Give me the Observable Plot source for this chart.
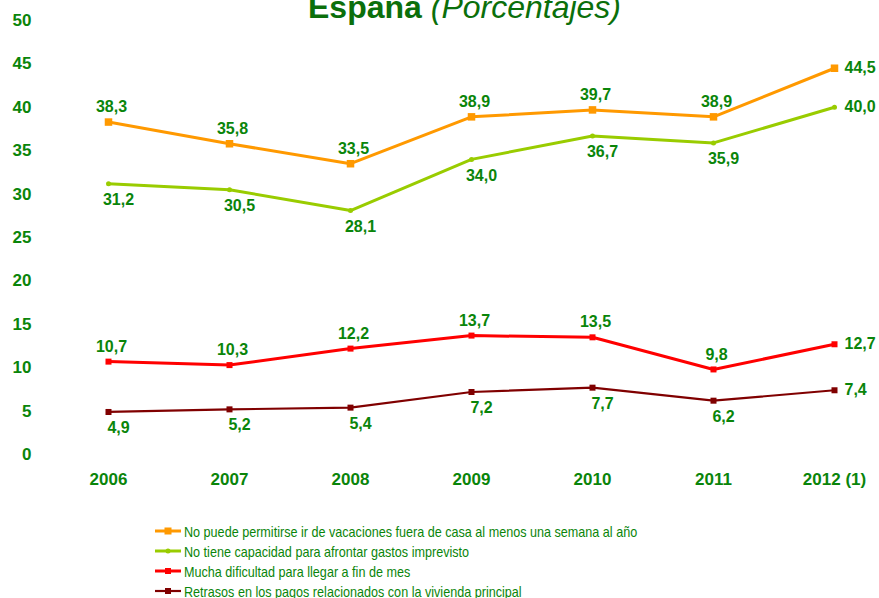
<!DOCTYPE html>
<html>
<head>
<meta charset="utf-8">
<script src="https://cdn.jsdelivr.net/npm/d3@7"></script>
<script src="https://cdn.jsdelivr.net/npm/@observablehq/plot@0.6"></script>
<style>
  body { margin: 0; background: #fff; font-family: Arial, "Liberation Sans", sans-serif; }
  #wrap { position: relative; width: 879px; height: 598px; overflow: hidden; }
  #title { position: absolute; left: 308px; top: -9px; white-space: nowrap; color: #0b6f0b; font-size: 32px; line-height: 32px; }
  #title b { font-weight: bold; }
  #title i { font-style: italic; font-weight: normal; }
  #chart { position: absolute; left: 0; top: 0; }
  #legend { position: absolute; left: 155px; top: 521px; }
  .item { display: flex; align-items: center; height: 20px; color: #0a850a; font-size: 15px; white-space: nowrap; }
  .item svg { margin-right: 3px; flex: none; }
  .item span { display: inline-block; transform: scaleX(0.84); transform-origin: left center; }
</style>
</head>
<body>
<div id="wrap">
  <div id="chart"></div>
  <div id="title"><b>España</b> <i>(Porcentajes)</i></div>
  <div id="legend"></div>
</div>
<script>
const years = ["2006", "2007", "2008", "2009", "2010", "2011", "2012 (1)"];
const seriesNames = [
  "No puede permitirse ir de vacaciones fuera de casa al menos una semana al año",
  "No tiene capacidad para afrontar gastos imprevisto",
  "Mucha dificultad para llegar a fin de mes",
  "Retrasos en los pagos relacionados con la vivienda principal"
];
const vacaciones = [38.3, 35.8, 33.5, 38.9, 39.7, 38.9, 44.5];
const imprevistos = [31.2, 30.5, 28.1, 34.0, 36.7, 35.9, 40.0];
const finDeMes = [10.7, 10.3, 12.2, 13.7, 13.5, 9.8, 12.7];
const retrasos = [4.9, 5.2, 5.4, 7.2, 7.7, 6.2, 7.4];
const yTicks = [0, 5, 10, 15, 20, 25, 30, 35, 40, 45, 50];

const colors = ["#ff9900", "#99cc00", "#ff0000", "#800000"];
const widths = [3, 3, 3, 2.2];
const markerSymbols = ["square", "circle", "square", "square"];
const markerSizes = [7.5, 5, 6, 6];
// label placement per series: above or below the point; last point labelled to the right
const placement = ["above", "below", "above", "below"];
const labelGreen = "#0a850a";

const allValues = [vacaciones, imprevistos, finDeMes, retrasos];
const data = [];
allValues.forEach((vals, s) => vals.forEach((v, i) => data.push({series: s, year: years[i], value: v, i})));

const fmt = v => v.toFixed(1).replace(".", ",");

const marks = [];
allValues.forEach((vals, s) => {
  const d = data.filter(p => p.series === s);
  marks.push(Plot.line(d, {x: "year", y: "value", stroke: colors[s], strokeWidth: widths[s]}));
  marks.push(Plot.dot(d, {x: "year", y: "value", fill: colors[s], stroke: "none", symbol: markerSymbols[s], r: markerSizes[s] / 2 * (markerSymbols[s] === "square" ? 1.13 : 1)}));
  const inner = d.filter(p => p.i < years.length - 1);
  const last = d.filter(p => p.i === years.length - 1);
  if (placement[s] === "above") {
    marks.push(Plot.text(inner, {x: "year", y: "value", text: p => fmt(p.value), dy: -15, dx: 3, fill: labelGreen, fontSize: 16, fontWeight: "bold"}));
  } else {
    marks.push(Plot.text(inner, {x: "year", y: "value", text: p => fmt(p.value), dy: 16, dx: 10, fill: labelGreen, fontSize: 16, fontWeight: "bold"}));
  }
  marks.push(Plot.text(last, {x: "year", y: "value", text: p => fmt(p.value), dx: 10, textAnchor: "start", fill: labelGreen, fontSize: 16, fontWeight: "bold"}));
});

const chart = Plot.plot({
  width: 879,
  height: 510,
  marginLeft: 107,
  marginRight: 44,
  marginTop: 20,
  marginBottom: 56,
  style: {fontFamily: "Arial, 'Liberation Sans', sans-serif", background: "transparent"},
  x: {type: "point", domain: years, padding: 0, label: null},
  y: {domain: [0, 50], label: null},
  marks: [
    Plot.axisY({ticks: yTicks, tickSize: 0, tickPadding: 76, tickFormat: d => d, fill: labelGreen, fontSize: 17, fontWeight: "bold", label: null}),
    Plot.axisX({tickSize: 0, tickPadding: 18, fill: labelGreen, fontSize: 17, fontWeight: "bold", label: null}),
    ...marks
  ]
});
document.getElementById("chart").appendChild(chart);

const legend = document.getElementById("legend");
seriesNames.forEach((name, s) => {
  const item = document.createElement("div");
  item.className = "item";
  const sz = s === 0 ? 7 : 6;
  const marker = markerSymbols[s] === "circle"
    ? `<circle cx="13" cy="5" r="2.5" fill="${colors[s]}"/>`
    : `<rect x="${13 - sz / 2}" y="${5 - sz / 2}" width="${sz}" height="${sz}" fill="${colors[s]}"/>`;
  item.innerHTML = `<svg width="26" height="10"><line x1="0" x2="26" y1="5" y2="5" stroke="${colors[s]}" stroke-width="${widths[s]}"/>${marker}</svg><span>${name}</span>`;
  legend.appendChild(item);
});
</script>
</body>
</html>
